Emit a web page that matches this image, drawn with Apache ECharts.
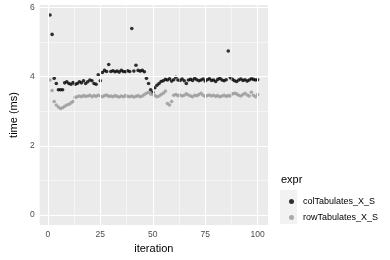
<!DOCTYPE html>
<html><head><meta charset="utf-8">
<script src="https://cdn.jsdelivr.net/npm/echarts@6/dist/echarts.min.js"></script>
<style>html,body{margin:0;padding:0;background:#fff}#c{width:390px;height:260px}</style>
</head><body><div id="c"></div>
<script>
var seriesNames = ["colTabulates_X_S", "rowTabulates_X_S"];
var colValues = [5.78,5.22,3.95,3.80,3.62,3.62,3.62,3.82,3.85,3.80,
3.78,3.83,3.78,3.80,3.85,3.82,3.88,3.80,3.85,3.90,
3.88,3.80,3.78,4.05,3.88,4.12,4.18,4.15,4.35,4.15,
4.17,4.14,4.16,4.13,4.18,4.15,4.14,4.17,4.15,5.39,
4.16,4.33,4.18,4.16,4.18,4.14,3.95,3.80,3.62,3.55,
3.68,3.75,3.80,3.86,3.88,3.92,3.90,3.94,3.87,3.91,
3.98,3.90,3.89,3.93,3.88,3.80,3.90,3.92,3.89,3.95,
3.91,3.88,3.90,3.93,3.87,3.91,3.94,3.89,3.90,3.86,
3.92,3.95,3.90,3.88,3.91,4.74,3.97,3.92,3.88,3.86,
3.90,3.93,3.89,3.91,3.87,3.90,3.94,3.92,3.90,3.91];
var rowValues = [3.90,3.60,3.28,3.18,3.12,3.08,3.10,3.14,3.18,3.20,
3.24,3.28,3.40,3.42,3.44,3.42,3.45,3.43,3.44,3.46,
3.42,3.45,3.43,3.46,3.44,3.42,3.45,3.47,3.43,3.44,
3.42,3.45,3.43,3.41,3.44,3.42,3.45,3.43,3.42,3.44,
3.41,3.43,3.45,3.42,3.44,3.48,3.52,3.55,3.50,3.48,
3.45,3.42,3.44,3.48,3.52,3.58,3.22,3.18,3.28,3.46,
3.48,3.45,3.47,3.44,3.46,3.50,3.47,3.44,3.42,3.46,
3.45,3.48,3.52,3.46,3.43,3.45,3.47,3.44,3.46,3.43,
3.45,3.42,3.44,3.46,3.43,3.45,3.44,3.50,3.52,3.50,
3.46,3.44,3.48,3.52,3.47,3.44,3.55,3.46,3.42,3.48];
var xTicks = [0, 25, 50, 75, 100];
var xMinor = [12.5, 37.5, 62.5, 87.5];
var yTicks = [0, 2, 4, 6];
var yMinor = [1, 3, 5];

function pairs(vals){ return vals.map(function(v,i){ return [i+1, v]; }); }
var FONT = "'Liberation Sans', Arial, sans-serif";
var chart = echarts.init(document.getElementById('c'), null, {renderer:'canvas'});
function gridLines(name, vals, axisKey, width){
  return {type:'line', name:name, data:[], silent:true, z:1,
    markLine:{silent:true, symbol:['none','none'], animation:false, label:{show:false},
      lineStyle:{color:'#FFFFFF', width:width, type:'solid'},
      emphasis:{disabled:true},
      data: vals.map(function(v){ var o={}; o[axisKey]=v; return o; })}};
}
chart.setOption({
  animation:false,
  grid:{left:30, top:5, width:238, height:220, show:true, backgroundColor:'#EBEBEB', borderWidth:0},
  xAxis:{type:'value', min:-3.95, max:104.95, splitLine:{show:false},
    axisLine:{show:false},
    axisTick:{show:true, customValues:xTicks, length:3, lineStyle:{color:'#333333', width:1}},
    axisLabel:{customValues:xTicks, color:'#4D4D4D', fontSize:8.5, fontFamily:FONT, margin:5},
    name:'iteration', nameLocation:'middle', nameGap:16,
    nameTextStyle:{color:'#000', fontSize:11, fontFamily:FONT}},
  yAxis:{type:'value', min:-0.289, max:6.07, splitLine:{show:false},
    axisLine:{show:false},
    axisTick:{show:true, customValues:yTicks, length:3, lineStyle:{color:'#333333', width:1}},
    axisLabel:{customValues:yTicks, color:'#4D4D4D', fontSize:8.5, fontFamily:FONT, margin:5},
    name:'time (ms)', nameLocation:'middle', nameGap:17, nameRotate:90,
    nameTextStyle:{color:'#000', fontSize:11, fontFamily:FONT}},
  legend:{data:seriesNames, orient:'vertical', left:284, top:192, itemWidth:5, itemHeight:5, itemGap:7,
    icon:'circle', textStyle:{fontSize:9, color:'#000', fontFamily:FONT, padding:[0,0,0,4]}, selectedMode:false},
  graphic:[
    {type:'text', left:281, top:174, style:{text:'expr', fontSize:11, fill:'#000', fontFamily:FONT}},
    {type:'rect', shape:{x:280, y:190, width:17, height:17}, style:{fill:'#F2F2F2'}, z:-1},
    {type:'rect', shape:{x:280, y:207, width:17, height:17}, style:{fill:'#F2F2F2'}, z:-1}
  ],
  series:[
    gridLines('gxm', xMinor, 'xAxis', 0.5),
    gridLines('gym', yMinor, 'yAxis', 0.5),
    gridLines('gx', xTicks, 'xAxis', 1),
    gridLines('gy', yTicks, 'yAxis', 1),
    {type:'scatter', name:seriesNames[0], data:pairs(colValues), symbolSize:3.6, z:3,
      itemStyle:{color:'#000000'}},
    {type:'scatter', name:seriesNames[1], data:pairs(rowValues), symbolSize:3.6, z:3,
      itemStyle:{color:'#999999'}}
  ]
});
</script></body></html>
